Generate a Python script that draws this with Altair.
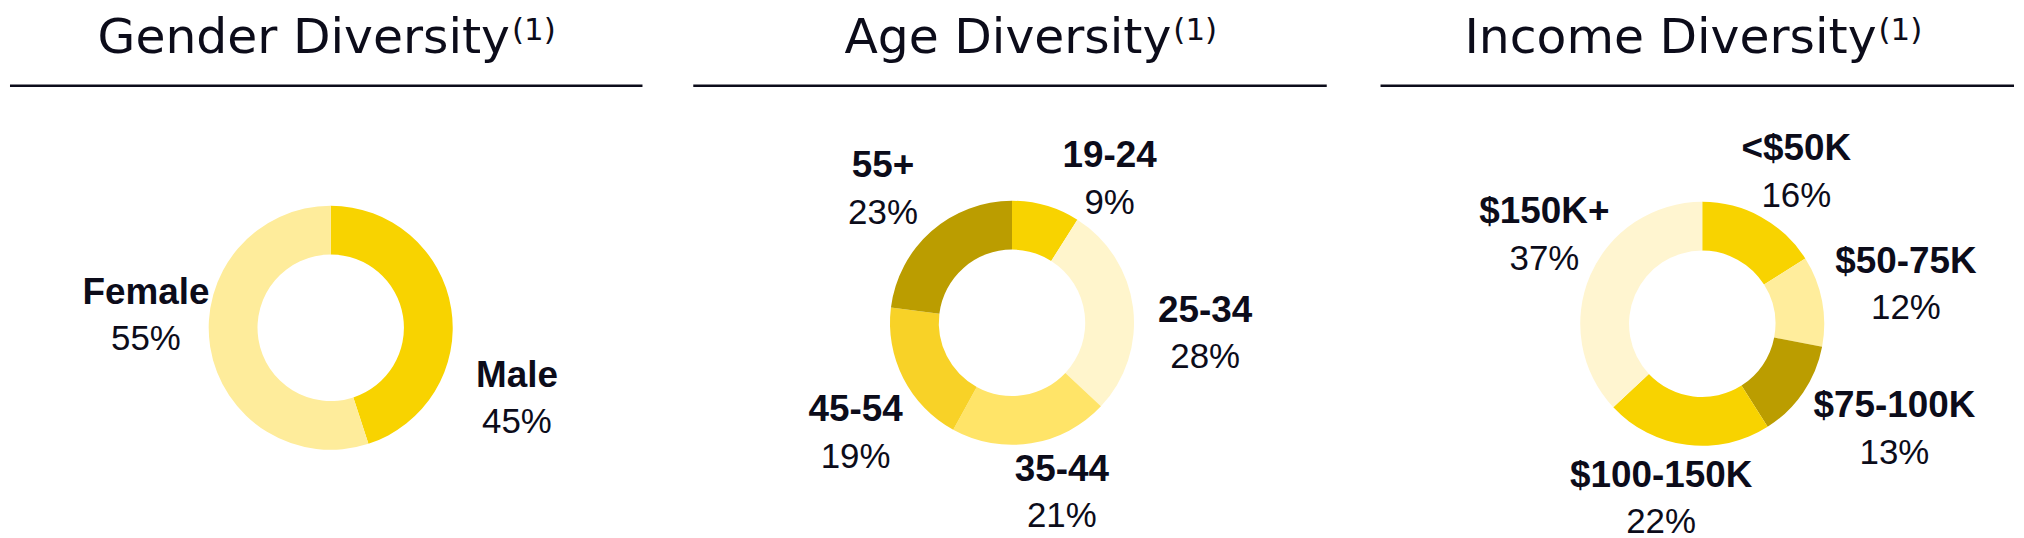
import altair as alt
import pandas as pd

# ---------------- data ----------------
gender_cats = ["Male", "Female"]
gender_vals = [45, 55]

age_cats = ["19-24", "25-34", "35-44", "45-54", "55+"]
age_vals = [9, 28, 21, 19, 23]

income_cats = ["<$50K", "$50-75K", "$75-100K", "$100-150K", "$150K+"]
income_vals = [16, 12, 13, 22, 37]

panel_titles = ["Gender Diversity", "Age Diversity", "Income Diversity"]
footnote_mark = "(1)"

# ---------------- styles / layout ----------------
gender_colors = ["#F8D300", "#FEEC9B"]
age_colors = ["#F8D300", "#FFF5CC", "#FFE468", "#F8D227", "#BB9D00"]
income_colors = ["#F8D300", "#FFED9C", "#BB9D00", "#F8D300", "#FFF5D0"]

TEXT = "#0c0c1a"
PANEL_W = [684, 688, 636]
PANEL_H = 522
CENTERS = [(322, 320), (320, 315), (323, 316)]
R_IN, R_OUT = 73.5, 122.5
RULE_Y = 77
RULE_X = [(0, 635), (0, 636), (0, 636)]
TITLE_END = [503, 481, 499]
TITLE_BASE = 44
SUP_BASE = 31
LINE_GAP = 46.5

# label anchor offsets from donut centre (centre x, name baseline)
LABEL_OFFSETS = {
    "Male": (187, 59), "Female": (-185.5, -24),
    "19-24": (98, -156), "25-34": (194, -1), "35-44": (50, 159),
    "45-54": (-157, 99), "55+": (-129.5, -146),
    "<$50K": (94.5, -164), "$50-75K": (204.5, -51), "$75-100K": (193, 94),
    "$100-150K": (-41.3, 164), "$150K+": (-158.5, -101),
}


def panel(i, cats, vals, colors):
    cx, cy = CENTERS[i]
    df = pd.DataFrame({"cat": cats, "value": vals, "idx": list(range(len(cats)))})
    df["pct"] = df["value"].astype(str) + "%"
    df["lx"] = [cx + LABEL_OFFSETS[c][0] for c in cats]
    df["ly"] = [cy + LABEL_OFFSETS[c][1] for c in cats]
    df["py"] = df["ly"] + LINE_GAP
    base = alt.Chart(df)

    arcs = base.mark_arc(innerRadius=R_IN, outerRadius=R_OUT).encode(
        theta=alt.Theta("value:Q", stack=True),
        color=alt.Color("cat:N", scale=alt.Scale(domain=cats, range=colors), legend=None),
        order=alt.Order("idx:Q"),
        x=alt.value(cx),
        y=alt.value(cy),
    )
    names = base.mark_text(
        font="Liberation Sans", fontSize=37, fontWeight="bold", align="center",
        baseline="alphabetic", color=TEXT,
    ).encode(
        x=alt.X("lx:Q", scale=None), y=alt.Y("ly:Q", scale=None), text="cat:N"
    )
    pcts = base.mark_text(
        font="Liberation Sans", fontSize=35, align="center",
        baseline="alphabetic", color=TEXT,
    ).encode(
        x=alt.X("lx:Q", scale=None), y=alt.Y("py:Q", scale=None), text="pct:N"
    )

    tdf = pd.DataFrame({"t": [panel_titles[i]], "s": [footnote_mark]})
    tbase = alt.Chart(tdf)
    rule = tbase.mark_rule(color=TEXT, strokeWidth=2.7).encode(
        x=alt.value(RULE_X[i][0]), x2=alt.value(RULE_X[i][1]), y=alt.value(RULE_Y)
    )
    title_main = tbase.mark_text(
        font="DejaVu Sans", fontSize=49, align="right", baseline="alphabetic", color=TEXT
    ).encode(text="t:N", x=alt.value(TITLE_END[i] - 1), y=alt.value(TITLE_BASE))
    title_sup = tbase.mark_text(
        font="DejaVu Sans", fontSize=31, align="left", baseline="alphabetic", color=TEXT
    ).encode(text="s:N", x=alt.value(TITLE_END[i] + 1), y=alt.value(SUP_BASE))

    return alt.layer(rule, title_main, title_sup, arcs, names, pcts).resolve_scale(
        color="independent", theta="independent"
    ).properties(width=PANEL_W[i], height=PANEL_H)


chart = alt.hconcat(
    panel(0, gender_cats, gender_vals, gender_colors),
    panel(1, age_cats, age_vals, age_colors),
    panel(2, income_cats, income_vals, income_colors),
    spacing=0,
).resolve_scale(color="independent", theta="independent").properties(
    padding=0, background="white"
).configure_view(strokeWidth=0)

chart.save("out.html", embed_options={"renderer": "svg", "actions": False})
